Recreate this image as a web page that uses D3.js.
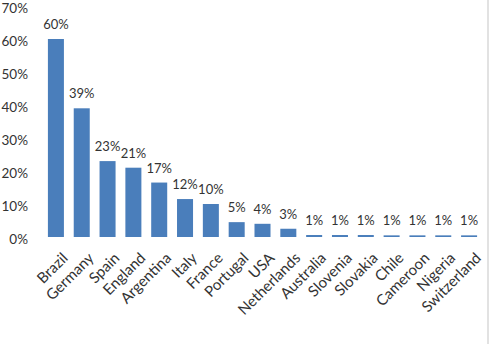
<!DOCTYPE html>
<html>
<head>
<meta charset="utf-8">
<script src="https://cdn.jsdelivr.net/npm/d3@7"></script>
<style>
  html, body { margin: 0; padding: 0; background: #fff; }
  svg { display: block; }
  text { font-family: "Lato", "Open Sans", sans-serif; fill: #333; }
</style>
</head>
<body>
<svg id="chart" width="489" height="344"></svg>
<script>
// Share of respondents per country (percent)
const countries = ["Brazil", "Germany", "Spain", "England", "Argentina", "Italy", "France",
  "Portugal", "USA", "Netherlands", "Australia", "Slovenia", "Slovakia", "Chile",
  "Cameroon", "Nigeria", "Switzerland"];
const shares = [60, 39, 23, 21, 16.5, 11.5, 10, 4.5, 4, 2.5, 0.6, 0.6, 0.6, 0.5, 0.5, 0.5, 0.5];
const yTicks = [0, 10, 20, 30, 40, 50, 60, 70];

const svg = d3.select("#chart");
const W = 489, H = 344;

const x = d3.scaleBand().domain(countries).range([43, 482]).paddingInner(0.38).paddingOuter(0.19);
const y = d3.scaleLinear().domain([0, 70]).range([237, 6]);

// y axis: labels only
const yAxis = d3.axisLeft(y).tickValues(yTicks).tickFormat(d => d + "%").tickSize(0).tickPadding(0);
const gy = svg.append("g").attr("transform", "translate(28,2)").call(yAxis);
gy.select(".domain").remove();
gy.selectAll("text").attr("font-size", 13.5).attr("font-family", "Lato, 'Open Sans', sans-serif").attr("fill", "#333");

// bars
svg.append("g").selectAll("rect").data(countries).join("rect")
  .attr("x", d => x(d))
  .attr("width", x.bandwidth())
  .attr("y", (d, i) => y(shares[i]))
  .attr("height", (d, i) => y(0) - y(shares[i]))
  .attr("fill", "#4a7ebb");

// value labels
svg.append("g").selectAll("text").data(countries).join("text")
  .attr("x", d => x(d) + x.bandwidth() / 2)
  .attr("y", (d, i) => y(shares[i]) - 10)
  .attr("text-anchor", "middle")
  .attr("font-size", 13)
  .text((d, i) => Math.round(shares[i]) + "%");

// x axis: rotated category labels
const xAxis = d3.axisBottom(x).tickSize(0).tickPadding(0);
const gx = svg.append("g").attr("transform", "translate(0,251)").call(xAxis);
gx.select(".domain").remove();
gx.selectAll("text")
  .attr("font-size", 15)
  .attr("font-family", "Lato, 'Open Sans', sans-serif")
  .attr("fill", "#333")
  .attr("text-anchor", "end")
  .attr("dy", "0.75em")
  .attr("transform", "translate(5,0) rotate(-45)");

// frame edge on the right
svg.append("line").attr("x1", 488).attr("x2", 488).attr("y1", 0).attr("y2", H)
  .attr("stroke", "#d9d9d9").attr("stroke-width", 1.5);
</script>
</body>
</html>
